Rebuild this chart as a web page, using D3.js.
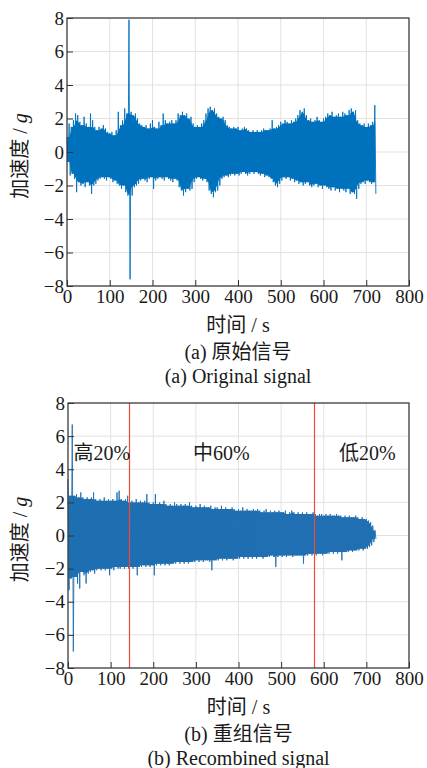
<!DOCTYPE html>
<html>
<head>
<meta charset="utf-8">
<title>原始信号与重组信号</title>
<script src="https://cdn.jsdelivr.net/npm/d3@7"></script>
<style>
  body { margin: 0; background: #fff; }
  svg text { font-family: "Liberation Serif", "Noto Sans CJK SC", serif; fill: #1a1a1a; }
</style>
</head>
<body>
<svg id="chart" width="427" height="768"></svg>
<script>
// signal envelope, one max and one min every 5 s
var timeStep = 5;
var xTicks = [0, 100, 200, 300, 400, 500, 600, 700, 800];
var yTicks = [-8, -6, -4, -2, 0, 2, 4, 6, 8];

var origHi = [
  0.9, 1.7, 1.5, 1.9, 2.3, 2.2, 1.8, 1.6, 2.1, 1.7,
  1.5, 2.3, 1.9, 1.5, 1.3, 1.5, 1.4, 1.6, 1.4, 1.2,
  1.1, 1.2, 1.0, 1.3, 2.4, 1.6, 1.9, 2.6, 2.3, 7.9,
  2.4, 2.2, 2.3, 2.0, 1.7, 1.6, 1.5, 1.6, 1.4, 1.7,
  1.9, 1.5, 1.4, 1.8, 1.6, 2.3, 1.9, 1.7, 1.8, 1.9,
  1.7, 1.9, 2.3, 2.2, 2.4, 2.2, 2.3, 2.0, 2.1, 1.7,
  1.5, 1.6, 1.5, 1.7, 1.9, 2.3, 2.6, 2.7, 2.5, 2.6,
  2.3, 2.1, 2.0, 2.1, 1.9, 1.6, 1.5, 1.4, 1.5, 1.4,
  1.5, 1.3, 1.4, 1.5, 1.4, 1.3, 1.2, 1.3, 1.2, 1.3,
  1.2, 1.3, 1.4, 1.3, 1.3, 1.4, 1.9, 1.4, 1.5, 1.6,
  1.8, 1.7, 1.9, 1.8, 1.7, 1.9, 1.8, 2.0, 2.2, 2.5,
  2.4, 2.6, 2.2, 1.9, 2.0, 1.8, 1.9, 2.1, 1.9, 1.8,
  2.0, 2.1, 2.3, 2.2, 2.4, 2.1, 2.2, 2.3, 2.1, 2.4,
  2.3, 2.2, 2.5, 2.6, 2.4, 2.5, 1.9, 1.7, 1.6, 1.7,
  1.5, 1.7, 1.6, 1.8, 2.8
];
var origLo = [
  -0.6, -1.4, -1.3, -1.6, -2.4, -1.8, -2.0, -1.9, -2.1, -1.8,
  -2.0, -2.5, -2.0, -1.9, -1.7, -1.6, -1.5, -1.6, -1.7, -1.5,
  -1.6, -1.8, -1.7, -1.9, -2.0, -2.2, -2.0, -2.4, -2.6, -7.6,
  -2.6, -2.1, -2.0, -1.9, -1.7, -1.6, -1.7, -1.8, -1.6, -1.5,
  -2.2, -1.7, -1.6, -1.5, -1.6, -1.7, -1.5, -1.6, -1.7, -1.8,
  -1.6, -1.7, -2.1, -2.3, -2.6, -2.4, -2.2, -2.3, -2.2, -1.8,
  -1.6, -1.5, -1.6, -1.7, -1.6, -1.8, -2.3, -2.5, -2.7, -2.4,
  -2.3, -2.0, -1.6, -1.5, -1.4, -1.5, -1.4, -1.3, -1.4, -1.3,
  -1.4, -1.3, -1.2, -1.3, -1.4, -1.3, -1.2, -1.3, -1.2, -1.3,
  -1.4, -1.3, -1.5, -1.4, -1.5, -1.6, -1.8, -2.0, -2.1, -1.9,
  -1.7, -1.5, -1.6, -1.5, -1.7, -1.6, -1.8, -1.7, -1.9, -1.8,
  -2.0, -1.9, -1.8, -2.0, -2.1, -2.0, -1.9, -2.1, -2.0, -2.2,
  -2.0, -2.1, -2.2, -2.3, -2.1, -2.3, -2.2, -2.4, -2.2, -2.3,
  -2.4, -2.2, -2.5, -2.4, -2.5, -2.8, -2.2, -1.9, -1.8, -1.9,
  -1.7, -1.8, -1.9, -1.8, -2.5
];

var recHi = [
  3.4, 2.4, 6.7, 2.4, 2.5, 2.3, 2.6, 2.3, 2.2, 2.3,
  2.2, 2.3, 2.6, 2.2, 2.1, 2.2, 2.1, 2.3, 2.1, 2.2,
  2.1, 2.2, 2.1, 2.6, 2.7, 2.2, 2.1, 2.2, 2.4, 2.0,
  2.1, 2.0, 2.2, 2.0, 2.1, 2.0, 2.1, 2.5, 2.0, 1.9,
  2.0, 2.5, 1.9, 2.0, 1.9, 2.1, 1.9, 1.8, 1.9, 1.8,
  2.0, 1.9, 1.8, 1.9, 1.8, 1.9, 1.8, 2.0, 1.8, 1.7,
  1.8, 1.7, 1.9, 1.7, 1.8, 1.7, 1.7, 1.8, 1.6, 1.7,
  1.7, 1.6, 1.8, 1.6, 1.7, 1.6, 1.6, 1.7, 1.6, 1.5,
  1.6, 1.5, 1.7, 1.5, 1.6, 1.5, 1.5, 1.6, 1.5, 1.6,
  1.5, 1.4, 1.5, 1.6, 1.4, 1.5, 1.4, 1.5, 1.4, 1.5,
  1.4, 1.4, 1.5, 1.3, 1.4, 1.5, 1.4, 1.3, 1.4, 1.3,
  1.4, 1.3, 1.4, 1.3, 1.3, 1.4, 1.3, 1.2, 1.3, 1.3,
  1.2, 1.3, 1.2, 1.3, 1.2, 1.2, 1.3, 1.2, 1.2, 1.1,
  1.2, 1.1, 1.2, 1.1, 1.1, 1.2, 1.1, 1.0, 1.1, 1.0,
  1.0, 0.9, 0.8, 0.6, 0.3
];
var recLo = [
  -3.3, -2.6, -7.0, -2.5, -2.9, -3.2, -2.2, -2.4, -2.9, -2.3,
  -2.2, -2.1, -2.3, -2.1, -2.0, -2.1, -2.0, -2.1, -2.0, -2.4,
  -2.0, -2.1, -1.9, -2.0, -2.0, -1.9, -2.0, -1.9, -2.0, -1.9,
  -2.0, -1.9, -2.4, -1.9, -1.9, -1.8, -1.9, -1.8, -1.9, -1.8,
  -2.4, -1.8, -1.7, -1.8, -1.7, -1.8, -1.7, -1.8, -1.7, -1.7,
  -1.7, -1.6, -1.7, -1.6, -1.7, -1.6, -1.7, -1.6, -1.6, -1.6,
  -1.5, -1.6, -1.5, -1.6, -1.5, -1.5, -1.6, -2.1, -1.5, -1.5,
  -1.5, -1.4, -1.5, -1.4, -1.5, -1.4, -1.4, -1.5, -1.4, -1.4,
  -1.4, -1.3, -1.4, -1.3, -1.4, -1.3, -1.4, -1.3, -1.4, -1.3,
  -1.3, -1.4, -1.3, -1.3, -1.3, -1.2, -1.3, -1.9, -1.3, -1.2,
  -1.3, -1.2, -1.3, -1.2, -1.2, -1.3, -1.2, -1.2, -1.2, -1.2,
  -1.7, -1.2, -1.2, -1.1, -1.2, -1.1, -1.2, -1.1, -1.1, -1.2,
  -1.1, -1.1, -1.1, -1.0, -1.1, -1.0, -1.1, -1.0, -1.5, -1.0,
  -1.0, -1.0, -0.9, -1.0, -0.9, -0.9, -0.9, -0.8, -0.9, -0.8,
  -0.8, -0.7, -0.6, -0.4, -0.2
];

var splitTimes = [144, 576];
var zoneNames = ["高20%", "中60%", "低20%"];
var zoneAt = [13, 360, 702];   // time position of each zone label
var zoneAnchor = ["start", "middle", "middle"];

var svg = d3.select("#chart");
svg.append("rect").attr("width", 427).attr("height", 768).attr("fill", "#fff");

function zigzag(hi, lo) {
  var pts = [];
  hi.forEach(function (v, i) {
    pts.push([i * timeStep, v]);
    pts.push([i * timeStep + timeStep / 2, lo[i]]);
  });
  return pts;
}

// the solid middle band: smallest excursion over each bin and its neighbours
function core(arr, pick) {
  return arr.map(function (v, i) {
    return pick(arr.slice(Math.max(0, i - 1), i + 2));
  });
}

function drawPanel(o) {
  var g = svg.append("g");
  var x = d3.scaleLinear().domain([0, 800]).range([o.left, o.right]);
  var y = d3.scaleLinear().domain([-8, 8]).range([o.bottom, o.top]);

  // grid
  g.append("g").selectAll("line").data(xTicks).join("line")
    .attr("x1", d => x(d)).attr("x2", d => x(d))
    .attr("y1", o.top).attr("y2", o.bottom)
    .attr("stroke", "#e2e2e2").attr("stroke-width", 1);
  g.append("g").selectAll("line").data(yTicks).join("line")
    .attr("y1", d => y(d)).attr("y2", d => y(d))
    .attr("x1", o.left).attr("x2", o.right)
    .attr("stroke", "#e2e2e2").attr("stroke-width", 1);

  // signal: solid core between the envelopes, then the zigzag for the spikes
  var top = core(o.hi, d3.min), bot = core(o.lo, d3.max);
  var area = d3.area()
    .x((d, i) => x(i * timeStep + 1))
    .y0((d, i) => y(bot[i]))
    .y1(d => y(d));
  g.append("path")
    .datum(top)
    .attr("d", area)
    .attr("fill", o.color);

  var line = d3.line().x(d => x(d[0])).y(d => y(d[1]));
  g.append("path")
    .datum(zigzag(o.hi, o.lo))
    .attr("d", line)
    .attr("fill", "none")
    .attr("stroke", o.color)
    .attr("stroke-width", 0.9);

  if (o.splits) {
    g.append("g").selectAll("line").data(o.splits).join("line")
      .attr("x1", d => Math.round(x(d)) + 0.5).attr("x2", d => Math.round(x(d)) + 0.5)
      .attr("y1", o.top).attr("y2", o.bottom)
      .attr("stroke", "#f04a38").attr("stroke-width", 1.2);
    g.append("g").selectAll("text").data(zoneNames).join("text")
      .attr("x", (d, i) => x(zoneAt[i]))
      .attr("y", y(5))
      .attr("dy", "0.35em")
      .attr("text-anchor", (d, i) => zoneAnchor[i])
      .style("font-size", "20px")
      .text(d => d);
  }

  // axes
  var ax = g.append("g").attr("transform", "translate(0," + o.bottom + ")")
    .call(d3.axisBottom(x).tickValues(xTicks).tickSizeInner(-6).tickSizeOuter(0).tickPadding(4));
  var ay = g.append("g").attr("transform", "translate(" + o.left + ",0)")
    .call(d3.axisLeft(y).tickValues(yTicks).tickSizeInner(-6).tickSizeOuter(0).tickPadding(3));
  [ax, ay].forEach(function (a) {
    a.attr("font-family", "Liberation Serif, serif");
    a.select(".domain").remove();
    a.selectAll(".tick line").attr("stroke", "#333");
    a.selectAll(".tick text").style("font-size", "19px").attr("fill", "#1a1a1a");
  });

  g.append("rect")
    .attr("x", o.left).attr("y", o.top)
    .attr("width", o.right - o.left).attr("height", o.bottom - o.top)
    .attr("fill", "none").attr("stroke", "#333").attr("stroke-width", 1.2);

  // labels
  var cx = (o.left + o.right) / 2;
  g.append("text").attr("x", cx).attr("y", o.bottom + 39).attr("dy", "0.35em")
    .attr("text-anchor", "middle").style("font-size", "20px").text("时间 / s");
  var yl = g.append("text")
    .attr("transform", "translate(20," + ((o.top + o.bottom) / 2 + 4) + ") rotate(-90)")
    .attr("dy", "0.35em").attr("text-anchor", "middle").style("font-size", "20px");
  yl.append("tspan").text("加速度 / ");
  yl.append("tspan").style("font-style", "italic").text("g");

  g.append("text").attr("x", cx).attr("y", o.bottom + 66).attr("dy", "0.35em")
    .attr("text-anchor", "middle").style("font-size", "20px").text(o.cap1);
  g.append("text").attr("x", cx).attr("y", o.bottom + 90).attr("dy", "0.35em")
    .attr("text-anchor", "middle").style("font-size", "20px").text(o.cap2);
}

drawPanel({
  left: 67, right: 409, top: 18, bottom: 286,
  hi: origHi, lo: origLo, color: "#0072bd",
  cap1: "(a) 原始信号", cap2: "(a) Original signal"
});
drawPanel({
  left: 68, right: 409, top: 403, bottom: 668,
  hi: recHi, lo: recLo, color: "#1f6fb2", splits: splitTimes,
  cap1: "(b) 重组信号", cap2: "(b) Recombined signal"
});
</script>
</body>
</html>
